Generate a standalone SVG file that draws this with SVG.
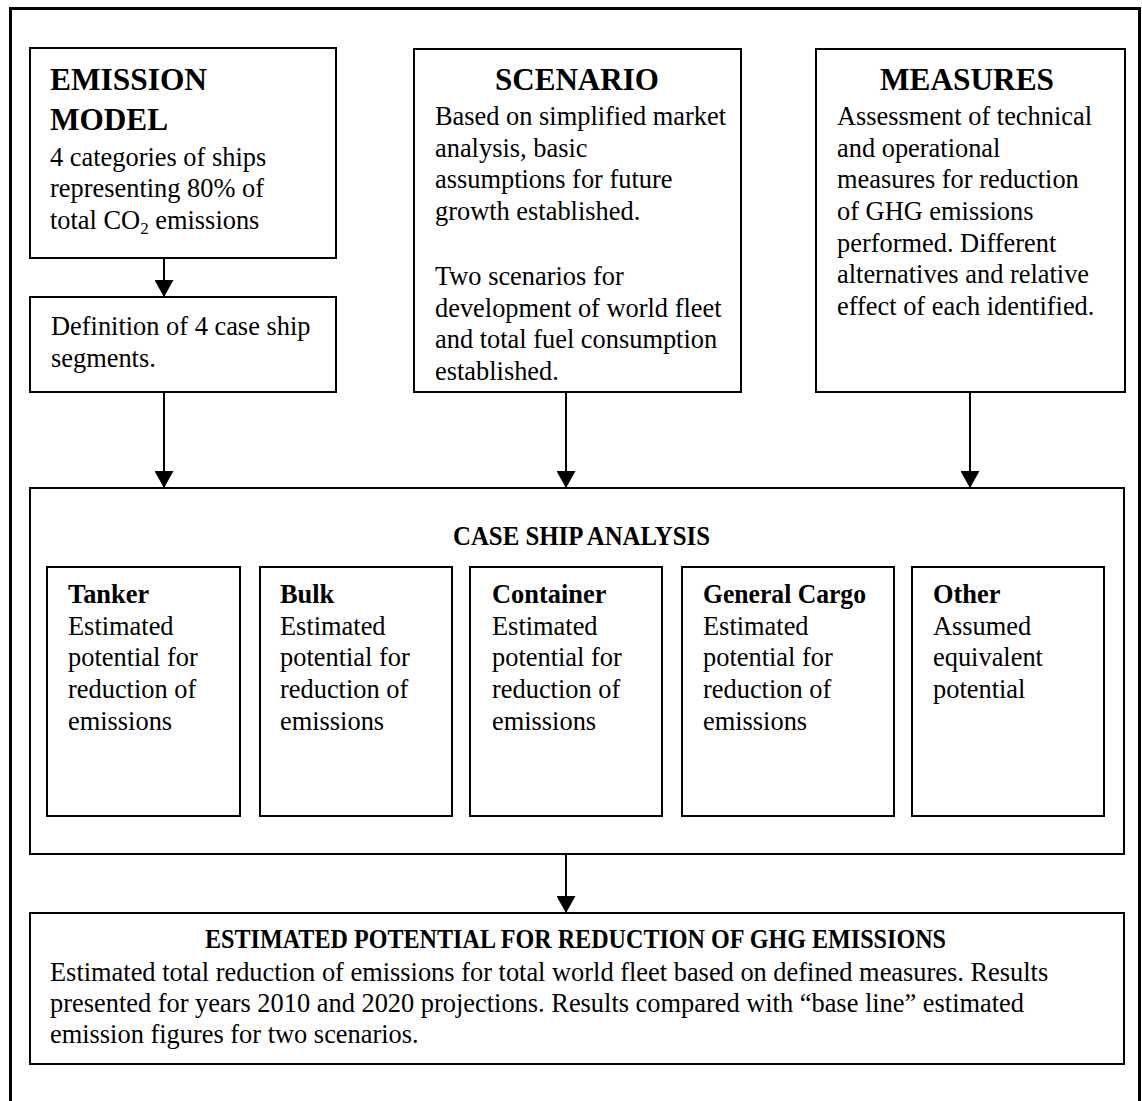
<svg xmlns="http://www.w3.org/2000/svg" width="1142" height="1101" viewBox="0 0 1142 1101">
<style>
.box{fill:#fff;stroke:#000;stroke-width:2}
.t{font-family:"Liberation Serif","Times New Roman",serif;font-size:26.4px;fill:#000}
.b{font-weight:bold}
.h{font-family:"Liberation Serif","Times New Roman",serif;font-size:32px;font-weight:bold;fill:#000}
.c{stroke:#000;stroke-width:2;fill:none}
</style>
<defs>
<marker id="arr" markerUnits="userSpaceOnUse" markerWidth="17" markerHeight="19" refX="17" refY="9.5" orient="auto">
<path d="M0,0 L17,9.5 L0,19 z" fill="#000"/>
</marker>
</defs>
<rect x="0" y="0" width="1142" height="1101" fill="#fff"/>
<rect id="frame" x="10.5" y="8.5" width="1129" height="1110" fill="none" stroke="#000" stroke-width="3"/>

<g id="emission-model">
<rect class="box" x="30" y="48" width="306" height="210"/>
<text class="h" x="50" y="90" textLength="157" lengthAdjust="spacingAndGlyphs">EMISSION</text>
<text class="h" x="50" y="130" textLength="118" lengthAdjust="spacingAndGlyphs">MODEL</text>
<text class="t" x="50" y="166">4 categories of ships</text>
<text class="t" x="50" y="197">representing 80% of</text>
<text class="t" x="50" y="229">total CO<tspan font-size="17" dy="5">2</tspan><tspan dy="-5"> emissions</tspan></text>
</g>

<g id="definition">
<rect class="box" x="30" y="297" width="306" height="95"/>
<text class="t" x="51" y="335">Definition of 4 case ship</text>
<text class="t" x="51" y="367">segments.</text>
</g>

<g id="scenario">
<rect class="box" x="414" y="49" width="327" height="343"/>
<text class="h" x="495" y="90" textLength="164" lengthAdjust="spacingAndGlyphs">SCENARIO</text>
<text class="t" x="435" y="125">Based on simplified market</text>
<text class="t" x="435" y="157">analysis, basic</text>
<text class="t" x="435" y="188">assumptions for future</text>
<text class="t" x="435" y="220">growth established.</text>
<text class="t" x="435" y="285">Two scenarios for</text>
<text class="t" x="435" y="317">development of world fleet</text>
<text class="t" x="435" y="348">and total fuel consumption</text>
<text class="t" x="435" y="380">established.</text>
</g>

<g id="measures">
<rect class="box" x="816" y="49" width="309" height="343"/>
<text class="h" x="880" y="90" textLength="174" lengthAdjust="spacingAndGlyphs">MEASURES</text>
<text class="t" x="837" y="125">Assessment of technical</text>
<text class="t" x="837" y="157">and operational</text>
<text class="t" x="837" y="188">measures for reduction</text>
<text class="t" x="837" y="220">of GHG emissions</text>
<text class="t" x="837" y="252">performed. Different</text>
<text class="t" x="837" y="283">alternatives and relative</text>
<text class="t" x="837" y="315">effect of each identified.</text>
</g>

<g id="case-ship-analysis">
<rect class="box" x="30" y="488" width="1094" height="366"/>
<text class="t b" x="453" y="545" textLength="257" lengthAdjust="spacingAndGlyphs">CASE SHIP ANALYSIS</text>
</g>

<g id="tanker">
<rect class="box" x="47" y="567" width="193" height="249"/>
<text class="t b" x="68" y="603">Tanker</text>
<text class="t" x="68" y="635">Estimated</text>
<text class="t" x="68" y="666">potential for</text>
<text class="t" x="68" y="698">reduction of</text>
<text class="t" x="68" y="730">emissions</text>
</g>

<g id="bulk">
<rect class="box" x="260" y="567" width="192" height="249"/>
<text class="t b" x="280" y="603">Bulk</text>
<text class="t" x="280" y="635">Estimated</text>
<text class="t" x="280" y="666">potential for</text>
<text class="t" x="280" y="698">reduction of</text>
<text class="t" x="280" y="730">emissions</text>
</g>

<g id="container">
<rect class="box" x="470" y="567" width="192" height="249"/>
<text class="t b" x="492" y="603">Container</text>
<text class="t" x="492" y="635">Estimated</text>
<text class="t" x="492" y="666">potential for</text>
<text class="t" x="492" y="698">reduction of</text>
<text class="t" x="492" y="730">emissions</text>
</g>

<g id="general-cargo">
<rect class="box" x="682" y="567" width="212" height="249"/>
<text class="t b" x="703" y="603" textLength="163" lengthAdjust="spacingAndGlyphs">General Cargo</text>
<text class="t" x="703" y="635">Estimated</text>
<text class="t" x="703" y="666">potential for</text>
<text class="t" x="703" y="698">reduction of</text>
<text class="t" x="703" y="730">emissions</text>
</g>

<g id="other">
<rect class="box" x="912" y="567" width="192" height="249"/>
<text class="t b" x="933" y="603">Other</text>
<text class="t" x="933" y="635">Assumed</text>
<text class="t" x="933" y="666">equivalent</text>
<text class="t" x="933" y="698">potential</text>
</g>

<g id="estimated-potential">
<rect class="box" x="30" y="913" width="1094" height="151"/>
<text class="t b" x="205" y="948" textLength="741" lengthAdjust="spacingAndGlyphs">ESTIMATED POTENTIAL FOR REDUCTION OF GHG EMISSIONS</text>
<text class="t" x="50" y="981">Estimated total reduction of emissions for total world fleet based on defined measures. Results</text>
<text class="t" x="50" y="1012">presented for years 2010 and 2020 projections. Results compared with “base line” estimated</text>
<text class="t" x="50" y="1043">emission figures for two scenarios.</text>
</g>

<g id="connectors">
<line class="c" x1="164" y1="258" x2="164" y2="297" marker-end="url(#arr)"/>
<line class="c" x1="164" y1="392" x2="164" y2="488" marker-end="url(#arr)"/>
<line class="c" x1="566" y1="392" x2="566" y2="488" marker-end="url(#arr)"/>
<line class="c" x1="970" y1="392" x2="970" y2="488" marker-end="url(#arr)"/>
<line class="c" x1="566" y1="854" x2="566" y2="913" marker-end="url(#arr)"/>
</g>
</svg>
